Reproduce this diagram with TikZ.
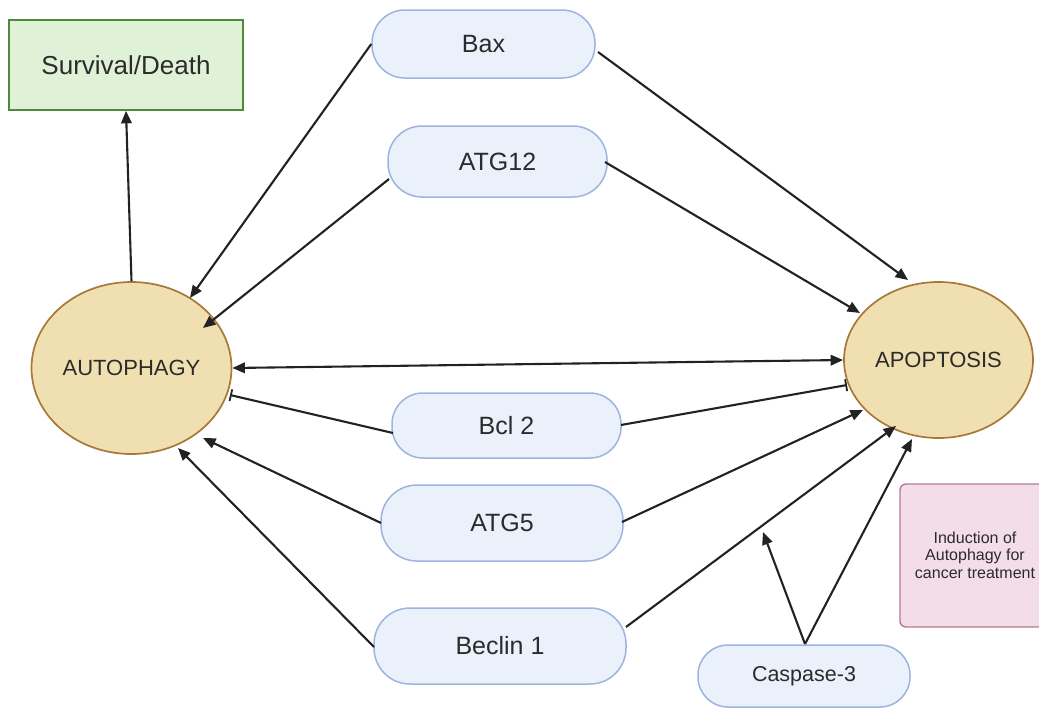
\documentclass[tikz,border=0pt]{standalone}
\usepackage{fontspec}
\setmainfont{Liberation Sans}
\usetikzlibrary{arrows.meta,calc,shapes.geometric}

\definecolor{pillfill}{HTML}{EAF1FB}
\definecolor{pillline}{HTML}{9DB4DE}
\definecolor{cellfill}{HTML}{EFDFB1}
\definecolor{cellline}{HTML}{A8783A}
\definecolor{fatefill}{HTML}{DFF2D8}
\definecolor{fateline}{HTML}{4E8A3A}
\definecolor{notefill}{HTML}{F3DDE8}
\definecolor{noteline}{HTML}{B47A96}
\definecolor{ink}{HTML}{2B2B2B}
\definecolor{wire}{HTML}{222222}

\tikzset{
  pill/.style={draw=pillline, fill=pillfill, line width=1.5pt, rectangle,
    rounded corners=#1, text=ink, font=\fontsize{25}{28}\selectfont},
  process/.style={draw=cellline, fill=cellfill, line width=1.7pt, ellipse,
    inner sep=0pt, text=ink, font=\fontsize{22}{26}\selectfont},
  fate/.style={draw=fateline, fill=fatefill, line width=1.7pt, rectangle,
    text=ink, font=\fontsize{26}{30}\selectfont},
  note/.style={draw=noteline, fill=notefill, line width=1.4pt, rounded corners=6pt},
  promote/.style={draw=wire, line width=2.1pt, -{Triangle[length=12.5pt,width=10.5pt]}},
  both/.style={draw=wire, line width=2.1pt, {Triangle[length=12.5pt,width=10.5pt]}-{Triangle[length=12.5pt,width=10.5pt]}},
  inhibit/.style={draw=wire, line width=2.1pt, -{Bar[width=12pt,line width=1.8pt]}}
}

\begin{document}
\begin{tikzpicture}[x=1pt,y=-1pt]
  \useasboundingbox (0,0) rectangle (1039,707);

  % outcome box
  \node[fate, minimum width=234pt, minimum height=90pt] (surv) at (126,65) {Survival/Death};

  % the two cellular processes
  \node[process, minimum width=200pt, minimum height=172pt] (auto) at (131.5,368) {AUTOPHAGY};
  \node[process, minimum width=189pt, minimum height=156pt] (apop) at (938.5,360) {APOPTOSIS};

  % regulators
  \node[pill=33pt, minimum width=223pt, minimum height=68pt] (bax)    at (483.5,44)    {Bax};
  \node[pill=34pt, minimum width=219pt, minimum height=71pt] (atg12)  at (497.5,161.5) {ATG12};
  \node[pill=31pt, minimum width=229pt, minimum height=65pt] (bcl)    at (506.5,425.5) {Bcl 2};
  \node[pill=36pt, minimum width=242pt, minimum height=76pt] (atg5)   at (502,523)     {ATG5};
  \node[pill=36pt, minimum width=252pt, minimum height=76pt] (beclin) at (500,646)     {Beclin 1};
  \node[pill=30pt, minimum width=212pt, minimum height=62pt, font=\fontsize{21.5}{24}\selectfont] (casp) at (804,676) {Caspase-3};

  % side note
  \draw[note] (900,484) rectangle (1052,627);
  \node[text=ink, align=center, font=\fontsize{16}{17.5}\selectfont] (ind) at (975,555)
    {Induction of\\Autophagy for\\cancer treatment};

  % free end of the caspase branch
  \coordinate (cbranch) at (763,532);

  % connectors
  \draw[promote] (auto.north) -- (surv.south);
  \draw[promote] (bax.west) -- ($(auto)+(58.5,-70)$);
  \draw[promote] ($(atg12)+(-108.5,17.5)$) -- ($(auto)+(71.5,-40)$);
  \draw[promote] ($(bax)+(114.5,8)$) -- ($(apop)+(-30.5,-80)$);
  \draw[promote] ($(atg12)+(107.5,0.5)$) -- ($(apop)+(-78.5,-47)$);
  \draw[both] (auto.east) -- (apop.west);
  \draw[inhibit] ($(bcl)+(-113.5,7.5)$) -- ($(auto)+(98.5,27)$);
  \draw[inhibit] ($(bcl)+(114.5,-0.5)$) -- ($(apop)+(-91.5,25)$);
  \draw[promote] ($(atg5)+(-121,0)$) -- ($(auto)+(71.5,70)$);
  \draw[promote] ($(atg5)+(120,-1)$) -- ($(apop)+(-75.5,50)$);
  \draw[promote] ($(beclin)+(-126,1)$) -- ($(auto)+(46.5,80)$);
  \draw[promote] ($(beclin)+(126,-19)$) -- ($(apop)+(-42.5,66)$);
  \draw[promote] ($(casp)+(1,-32)$) -- (cbranch);
  \draw[promote] ($(casp)+(1,-32)$) -- ($(apop)+(-26.5,79)$);
\end{tikzpicture}
\end{document}
